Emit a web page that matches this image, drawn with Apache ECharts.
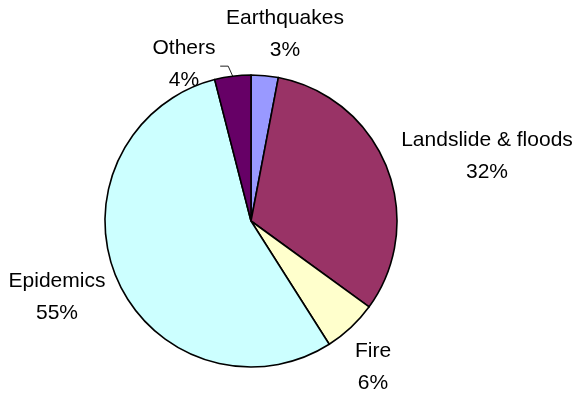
<!DOCTYPE html>
<html>
<head>
<meta charset="utf-8">
<script src="https://cdn.jsdelivr.net/npm/echarts@6/dist/echarts.min.js"></script>
<style>
  html, body { margin: 0; padding: 0; background: #fff; }
  #chart { width: 582px; height: 398px; }
</style>
</head>
<body>
<div id="chart"></div>
<script>
// Share of disaster-related deaths by cause (%)
const categories = ['Earthquakes', 'Landslide & floods', 'Fire', 'Epidemics', 'Others'];
const shares = [3, 32, 6, 55, 4];
const sliceColors = ['#9999FF', '#993366', '#FFFFCC', '#CCFFFF', '#660066'];

// Where each two-line label block is centred
const labelCenters = [[285, 34], [487, 156], [373, 367], [57, 297], [184, 64]];

const pieCenter = [251, 221];
const pieRadius = 146;

// Mid-angle (radians, clockwise from 12 o'clock) of a slice
function midAngle(idx) {
  const total = shares.reduce((a, b) => a + b, 0);
  let before = 0;
  for (let i = 0; i < idx; i++) before += shares[i];
  return (before + shares[idx] / 2) / total * Math.PI * 2;
}

const chart = echarts.init(document.getElementById('chart'), null, { renderer: 'canvas' });

const data = categories.map((name, i) => ({
  name: name,
  value: shares[i],
  itemStyle: { color: sliceColors[i] },
  labelLine: { show: name === 'Others' }
}));

chart.setOption({
  backgroundColor: '#ffffff',
  animation: false,
  series: [{
    type: 'pie',
    center: pieCenter,
    radius: pieRadius,
    startAngle: 90,
    clockwise: true,
    avoidLabelOverlap: false,
    data: data,
    itemStyle: { borderColor: '#000000', borderWidth: 1.6 },
    emphasis: { disabled: true },
    label: {
      show: true,
      position: 'outside',
      formatter: '{b}\n{c}%',
      fontFamily: 'Liberation Sans, Arial, sans-serif',
      fontSize: 21,
      lineHeight: 32,
      color: '#000000',
      align: 'center'
    },
    labelLine: {
      show: false,
      lineStyle: { color: '#222222', width: 1 }
    },
    labelLayout: function (params) {
      const i = params.dataIndex;
      const c = labelCenters[i];
      const out = { x: c[0], y: c[1], align: 'center', verticalAlign: 'middle' };
      if (categories[i] === 'Others') {
        const a = midAngle(i);
        const ax = pieCenter[0] + pieRadius * Math.sin(a);
        const ay = pieCenter[1] - pieRadius * Math.cos(a);
        out.labelLinePoints = [[ax, ay], [ax - 4.5, ay - 10], [ax - 12.5, ay - 10]];
      }
      return out;
    }
  }]
});
</script>
</body>
</html>
